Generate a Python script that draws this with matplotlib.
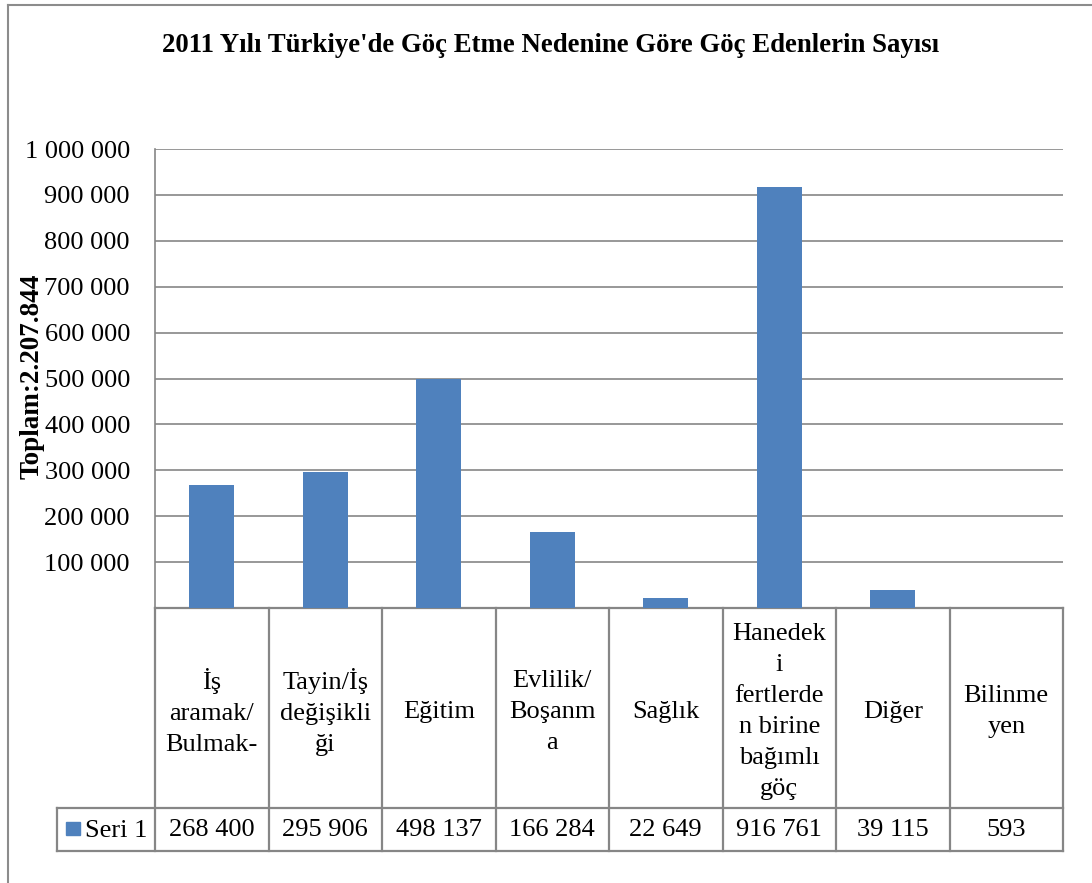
import matplotlib
matplotlib.use("Agg")
import matplotlib.pyplot as plt
from matplotlib.lines import Line2D
from matplotlib.patches import Rectangle
import matplotlib.transforms as mtransforms
from matplotlib.ticker import FuncFormatter, MultipleLocator

# ---- data ----
categories = ["İş\naramak/\nBulmak-", "Tayin/İş\ndeğişikli\nği", "Eğitim",
              "Evlilik/\nBoşanm\na", "Sağlık",
              "Hanedek\ni\nfertlerde\nn birine\nbağımlı\ngöç",
              "Diğer", "Bilinme\nyen"]
values = [268400, 295906, 498137, 166284, 22649, 916761, 39115, 593]
series_name = "Seri 1"
title = "2011 Yılı Türkiye'de Göç Etme Nedenine Göre Göç Edenlerin Sayısı"
ylabel = "Toplam:2.207.844"

BLUE = "#4F81BD"
GRID = "#868686"
FONT = "Liberation Serif"
FS = 19

W, H = 1092, 883
fig = plt.figure(figsize=(W / 100, H / 100), dpi=100)

# plot area in pixels
px_l, px_r, px_t, px_b = 155, 1063, 149, 608
ax = fig.add_axes([px_l / W, (H - px_b) / H, (px_r - px_l) / W, (px_b - px_t) / H])

n = len(categories)
xs = list(range(n))
ax.bar(xs, values, width=0.4, color=BLUE, zorder=3)
ax.set_xlim(-0.5, n - 0.5)
ax.set_ylim(0, 1_000_000)
ax.yaxis.set_major_locator(MultipleLocator(100_000))
ax.yaxis.set_major_formatter(FuncFormatter(
    lambda v, p: "" if v == 0 else f"{int(v):,}".replace(",", " ")))
ax.grid(axis="y", color=GRID, linewidth=1.2, zorder=0)
ax.set_xticks([])
ax.tick_params(axis="y", length=0, pad=18, labelsize=FS)
for lab in ax.get_yticklabels():
    lab.set_fontfamily(FONT)
for s in ["top", "right", "bottom"]:
    ax.spines[s].set_visible(False)
ax.spines["left"].set_color(GRID)
ax.spines["left"].set_linewidth(1.2)

ax.set_ylabel(ylabel, fontfamily=FONT, fontsize=19.5, fontweight="bold")
ax.yaxis.set_label_coords((45 - px_l) / (px_r - px_l), 0.505)

# ---- data table under the plot ----
trans = mtransforms.blended_transform_factory(ax.transData, ax.transAxes)
ah = px_b - px_t
row1 = -(808 - px_b) / ah
row2 = -(851 - px_b) / ah
col_w = (px_r - px_l) / n
leg_l = -0.5 - (px_l - 57) / col_w


def hline(x0, x1, y):
    ax.add_line(Line2D([x0, x1], [y, y], transform=trans, color=GRID,
                       linewidth=1.6, clip_on=False))


def vline(x, y0, y1):
    ax.add_line(Line2D([x, x], [y0, y1], transform=trans, color=GRID,
                       linewidth=1.6, clip_on=False))


hline(-0.5, n - 0.5, 0)
hline(leg_l, n - 0.5, row1)
hline(leg_l, n - 0.5, row2)
for i in range(n + 1):
    vline(i - 0.5, 0, row2)
vline(leg_l, row1, row2)

for i, (c, v) in enumerate(zip(categories, values)):
    ax.text(i, row1 / 2 - 0.008, c, transform=trans, ha="center", va="center",
            fontfamily=FONT, fontsize=FS, linespacing=1.53, clip_on=False)
    ax.text(i, (row1 + row2) / 2 - 0.002, f"{v:,}".replace(",", " "), transform=trans,
            ha="center", va="center", fontfamily=FONT, fontsize=FS, clip_on=False)

# legend key in the table
fig.patches.append(Rectangle((66 / W, (H - 835) / H), 14 / W, 13 / H,
                             transform=fig.transFigure, color=BLUE))
fig.text(85 / W, (H - 831) / H, series_name, ha="left", va="center",
         fontfamily=FONT, fontsize=FS)

# title
fig.text(551 / W, (H - 46) / H, title, ha="center", va="center",
         fontfamily=FONT, fontsize=19.3, fontweight="bold")

# outer chart frame
fig.add_artist(Line2D([8 / W, 8 / W], [0, (H - 5) / H], transform=fig.transFigure,
                      color="#8c8c8c", linewidth=1.5))
fig.add_artist(Line2D([8 / W, 1], [(H - 5) / H, (H - 5) / H], transform=fig.transFigure,
                      color="#8c8c8c", linewidth=1.5))

fig.savefig("out.png", dpi=100, facecolor="white")
